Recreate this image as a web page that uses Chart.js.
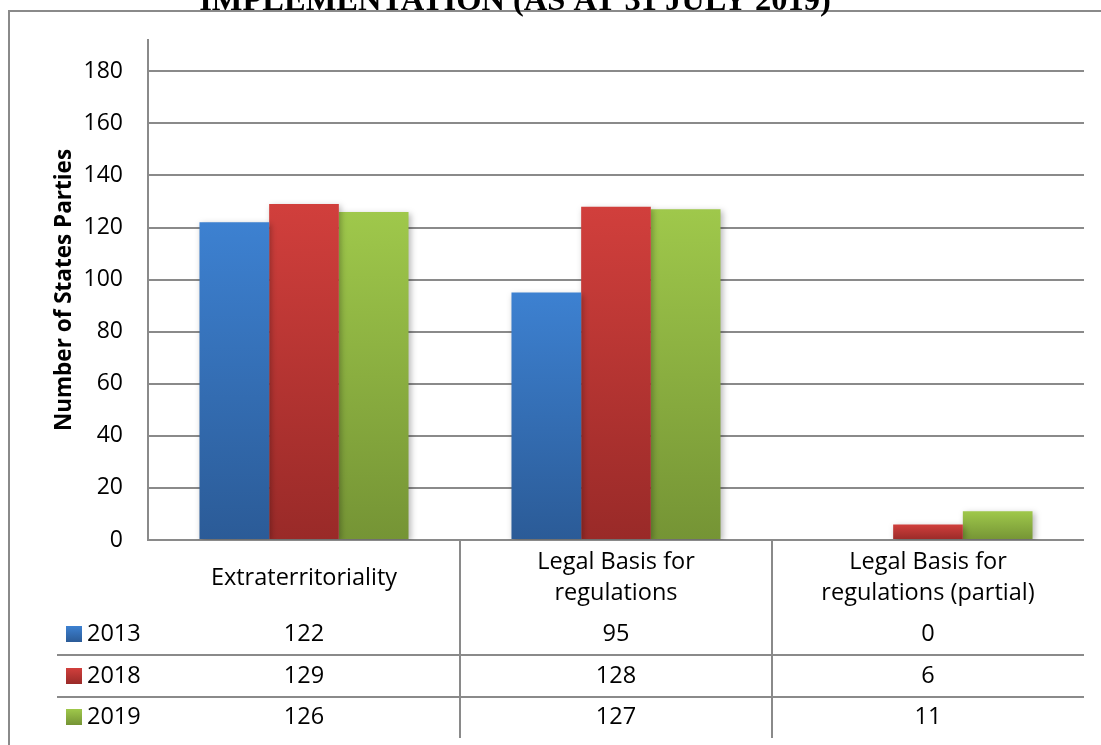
<!DOCTYPE html>
<html>
<head>
<meta charset="utf-8">
<script src="https://cdn.jsdelivr.net/npm/chart.js@4.4.1/dist/chart.umd.min.js"></script>
<style>
  html, body { margin: 0; padding: 0; background: #fff; }
  #wrap { position: relative; width: 1101px; height: 745px; }
</style>
</head>
<body>
<div id="wrap"><canvas id="chart"></canvas></div>
<script>
/* ── DATA ───────────────────────────────────────── */
const categories = [
  ["Extraterritoriality"],
  ["Legal Basis for", "regulations"],
  ["Legal Basis for", "regulations (partial)"],
];
const years = ["2013", "2018", "2019"];
const values2013 = [122, 95, 0];
const values2018 = [129, 128, 6];
const values2019 = [126, 127, 11];
const yTicks = [0, 20, 40, 60, 80, 100, 120, 140, 160, 180];

const chartTitle = "IMPLEMENTATION (AS AT 31 JULY 2019)";
const yTitle = "Number of States Parties";

/* ── STYLE ──────────────────────────────────────── */
const FONT = "Open Sans";
const LINE = "#8a8a8a";
const fills = [
  ["#3d81d1", "#2b5b97"], // 2013
  ["#d13f3c", "#992a28"], // 2018
  ["#9fc84b", "#759435"], // 2019
];

// vertical gradient spanning a single bar
function barGradient(ctx, i) {
  const chart = ctx.chart;
  const y = chart.scales.y;
  const v = ctx.parsed ? ctx.parsed.y : null;
  if (!y || v == null || !chart.chartArea) return fills[i][0];
  const top = y.getPixelForValue(v);
  const bot = y.getPixelForValue(0);
  if (bot - top < 1) return fills[i][0];
  const g = chart.ctx.createLinearGradient(0, top, 0, bot);
  g.addColorStop(0, fills[i][0]);
  g.addColorStop(1, fills[i][1]);
  return g;
}

/* ── PLUGINS ────────────────────────────────────── */
const frame = {
  id: "frame",
  beforeDraw(chart) {
    const c = chart.ctx;
    c.save();
    c.strokeStyle = LINE;
    c.lineWidth = 2;
    c.beginPath();
    c.moveTo(9, 745);
    c.lineTo(9, 11);
    c.lineTo(1101, 11);
    c.stroke();
    // heading sits above the frame, partly off the top edge
    c.fillStyle = "#000";
    c.font = "bold 32.5px 'Liberation Serif'";
    c.textAlign = "center";
    c.textBaseline = "alphabetic";
    c.fillText(chartTitle, 515, 10);
    c.restore();
  },
};

const barShadow = {
  id: "barShadow",
  beforeDatasetsDraw(chart) {
    const c = chart.ctx;
    c.save();
    c.shadowColor = "rgba(0,0,0,0.28)";
    c.shadowBlur = 6;
    c.shadowOffsetX = 2;
    c.shadowOffsetY = 2;
  },
  afterDatasetsDraw(chart) {
    chart.ctx.restore();
  },
};

// data table under the plot: category names, legend keys, values
const dataTable = {
  id: "dataTable",
  afterDraw(chart) {
    const c = chart.ctx;
    const x = chart.scales.x;
    const area = chart.chartArea;
    const step = (area.right - area.left) / categories.length;
    const rows = [634, 676, 717];

    c.save();
    c.strokeStyle = LINE;
    c.lineWidth = 2;
    c.beginPath();
    for (let i = 1; i < categories.length; i++) {
      const bx = Math.round(area.left + step * i);
      c.moveTo(bx, area.bottom);
      c.lineTo(bx, 738);
    }
    [655, 697].forEach((ry) => {
      c.moveTo(57, ry);
      c.lineTo(area.right, ry);
    });
    c.stroke();

    c.fillStyle = "#000";
    c.font = "23.5px " + FONT;
    c.textAlign = "center";
    c.textBaseline = "middle";
    categories.forEach((lines, i) => {
      const cx = x.getPixelForValue(i);
      if (lines.length === 1) {
        c.fillText(lines[0], cx, 578);
      } else {
        c.fillText(lines[0], cx, 562);
        c.fillText(lines[1], cx, 593);
      }
    });

    const series = [values2013, values2018, values2019];
    series.forEach((vals, r) => {
      const ry = rows[r];
      const g = c.createLinearGradient(0, ry - 8, 0, ry + 8);
      g.addColorStop(0, fills[r][0]);
      g.addColorStop(1, fills[r][1]);
      c.fillStyle = g;
      c.fillRect(66, ry - 8, 16, 16);

      c.fillStyle = "#000";
      c.textAlign = "left";
      c.fillText(years[r], 87, ry);
      c.textAlign = "center";
      vals.forEach((v, i) => c.fillText(String(v), x.getPixelForValue(i), ry));
    });
    c.restore();
  },
};

/* ── CHART ──────────────────────────────────────── */
const labels = categories.map((l) => l.join(" "));
const datasets = [values2013, values2018, values2019].map((vals, i) => ({
  label: years[i],
  data: vals,
  backgroundColor: (ctx) => barGradient(ctx, i),
  borderWidth: 0,
  categoryPercentage: 0.67,
  barPercentage: 1.0,
}));

new Chart(document.getElementById("chart"), {
  type: "bar",
  data: { labels, datasets },
  options: {
    responsive: true,
    maintainAspectRatio: false,
    animation: false,
    layout: { padding: { left: 0, right: 17, top: 40, bottom: 205 } },
    plugins: {
      legend: { display: false },
      title: { display: false },
      tooltip: { enabled: false },
    },
    scales: {
      x: { display: false },
      y: {
        min: 0,
        max: 192,
        afterFit: (s) => { s.width = 148; },
        afterBuildTicks: (s) => { s.ticks = yTicks.map((v) => ({ value: v })); },
        border: { display: true, color: LINE, width: 2 },
        grid: { color: LINE, lineWidth: 2, drawTicks: false },
        ticks: {
          padding: 25,
          color: "#000",
          font: { family: FONT, size: 23 },
        },
        title: {
          display: true,
          text: yTitle,
          color: "#000",
          font: { family: FONT, size: 22.5, weight: "bold" },
          padding: { top: 51, bottom: 0 },
        },
      },
    },
  },
  plugins: [frame, barShadow, dataTable],
});
</script>
</body>
</html>
